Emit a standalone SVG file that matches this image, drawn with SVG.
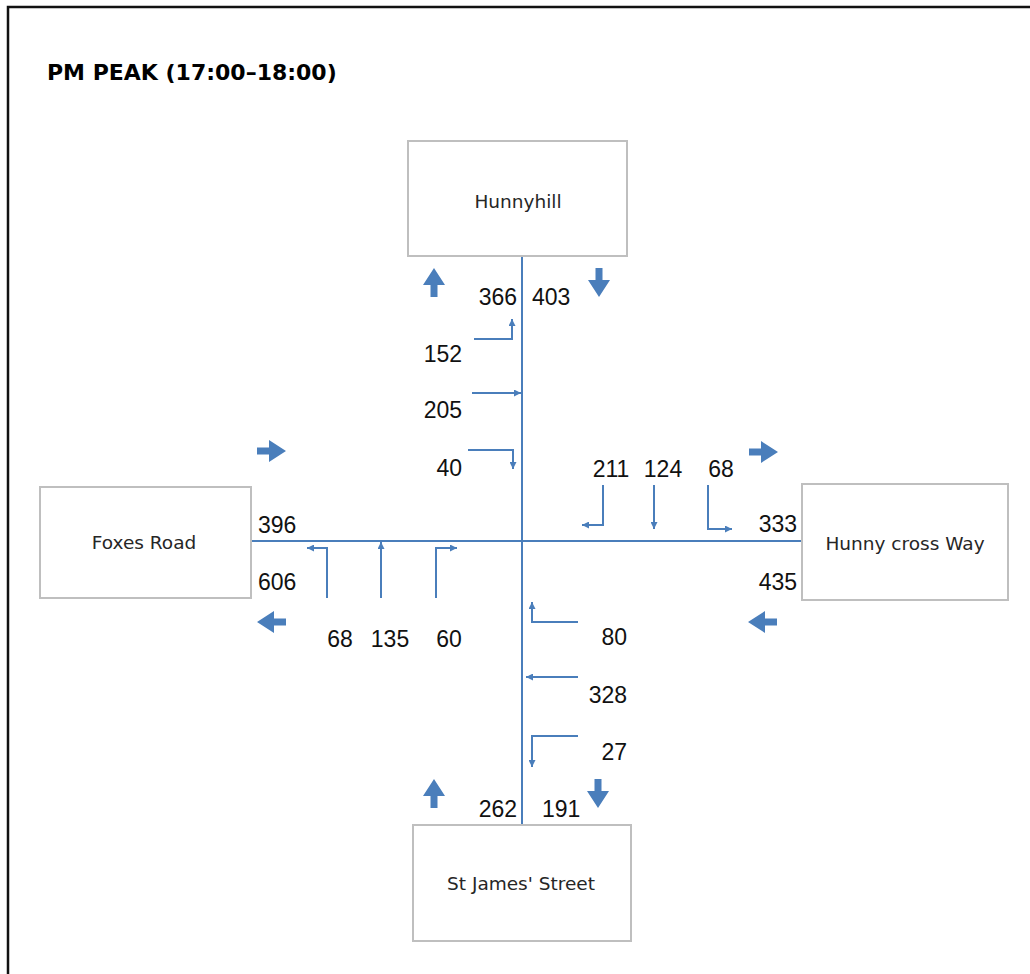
<svg xmlns="http://www.w3.org/2000/svg" width="1030" height="974" viewBox="0 0 1030 974">
<style>
.box{fill:#fff;stroke:#bfbfbf;stroke-width:2}
.lbl{font-family:"DejaVu Sans",sans-serif;font-size:18.5px;fill:#262626;text-anchor:middle}
.num{font-family:"Liberation Sans",Arial,sans-serif;font-size:23px;fill:#111}
.road{stroke:#4a7ebb;stroke-width:2;fill:none}
.turn{stroke:#4a7ebb;stroke-width:2;fill:none;marker-end:url(#ah)}
.big{fill:#4a7ebb}
</style>
<defs>
<marker id="ah" viewBox="0 0 10 10" refX="10" refY="5" markerWidth="7" markerHeight="7" orient="auto" markerUnits="userSpaceOnUse">
<path d="M0,0 L10,5 L0,10 z" fill="#4a7ebb"/>
</marker>
<path id="bigR" d="M-14,-3.5 L-2,-3.5 L-2,-11 L15,0 L-2,11 L-2,3.5 L-14,3.5 z"/>
</defs>
<rect x="0" y="0" width="1030" height="974" fill="#fff"/>
<path d="M8,974 L8,7 L1030,7" fill="none" stroke="#111" stroke-width="2.5"/>
<text x="47" y="80" font-family="DejaVu Sans,sans-serif" font-weight="bold" font-size="22px" fill="#000">PM PEAK (17:00–18:00)</text>

<g id="connectors">
<line class="road" x1="522" y1="256" x2="522" y2="825"/>
<line class="road" x1="251" y1="541" x2="802" y2="541"/>
<!-- north approach -->
<polyline class="turn" points="474,339 512,339 512,319"/>
<polyline class="turn" points="472,393 521,393"/>
<polyline class="turn" points="468,450 513,450 513,469"/>
<!-- east approach -->
<polyline class="turn" points="603,485 603,525 582,525"/>
<polyline class="turn" points="654,485 654,529"/>
<polyline class="turn" points="708,485 708,529 732,529"/>
<!-- west approach -->
<polyline class="turn" points="327,598 327,548 307,548"/>
<polyline class="turn" points="381,598 381,542"/>
<polyline class="turn" points="436,598 436,548 457,548"/>
<!-- south approach -->
<polyline class="turn" points="578,622 532,622 532,602"/>
<polyline class="turn" points="578,677 526,677"/>
<polyline class="turn" points="578,736 532,736 532,767"/>
<!-- big direction arrows -->
<use href="#bigR" class="big" transform="translate(434,283) rotate(-90)"/>
<use href="#bigR" class="big" transform="translate(599,282) rotate(90)"/>
<use href="#bigR" class="big" transform="translate(271,451)"/>
<use href="#bigR" class="big" transform="translate(763,452)"/>
<use href="#bigR" class="big" transform="translate(272,622) rotate(180)"/>
<use href="#bigR" class="big" transform="translate(763,622) rotate(180)"/>
<use href="#bigR" class="big" transform="translate(434,794) rotate(-90)"/>
<use href="#bigR" class="big" transform="translate(598,793) rotate(90)"/>
</g>

<g id="node-hunnyhill">
<rect class="box" x="408" y="141" width="219" height="115"/>
<text class="lbl" x="518" y="208">Hunnyhill</text>
</g>
<g id="node-foxes-road">
<rect class="box" x="40" y="487" width="211" height="111"/>
<text class="lbl" x="144" y="549">Foxes Road</text>
</g>
<g id="node-hunny-cross-way">
<rect class="box" x="802" y="484" width="206" height="116"/>
<text class="lbl" x="905" y="550">Hunny cross Way</text>
</g>
<g id="node-st-james-street">
<rect class="box" x="413" y="825" width="218" height="116"/>
<text class="lbl" x="521" y="890">St James' Street</text>
</g>

<g id="counts">
<text class="num" x="517" y="305" text-anchor="end">366</text>
<text class="num" x="532" y="305">403</text>
<text class="num" x="462" y="362" text-anchor="end">152</text>
<text class="num" x="462" y="418" text-anchor="end">205</text>
<text class="num" x="462" y="476" text-anchor="end">40</text>
<text class="num" x="611" y="477" text-anchor="middle">211</text>
<text class="num" x="663" y="477" text-anchor="middle">124</text>
<text class="num" x="721" y="477" text-anchor="middle">68</text>
<text class="num" x="797" y="532" text-anchor="end">333</text>
<text class="num" x="797" y="590" text-anchor="end">435</text>
<text class="num" x="258" y="533">396</text>
<text class="num" x="258" y="590">606</text>
<text class="num" x="340" y="647" text-anchor="middle">68</text>
<text class="num" x="390" y="647" text-anchor="middle">135</text>
<text class="num" x="449" y="647" text-anchor="middle">60</text>
<text class="num" x="627" y="645" text-anchor="end">80</text>
<text class="num" x="627" y="703" text-anchor="end">328</text>
<text class="num" x="627" y="760" text-anchor="end">27</text>
<text class="num" x="517" y="817" text-anchor="end">262</text>
<text class="num" x="542" y="817">191</text>
</g>
</svg>
